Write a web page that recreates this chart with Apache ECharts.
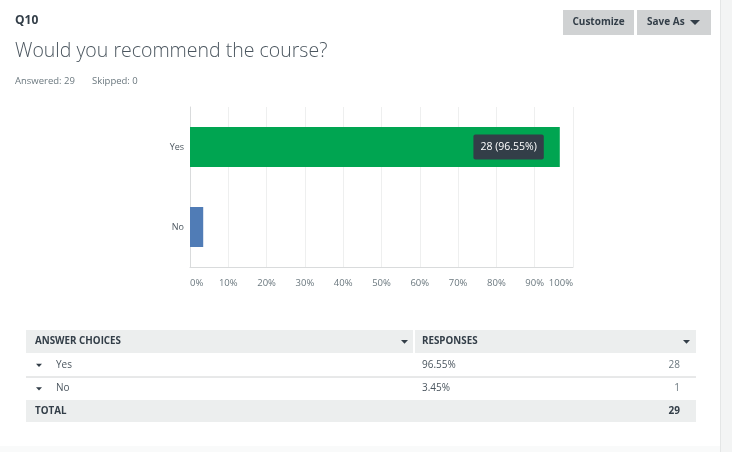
<!DOCTYPE html>
<html>
<head>
<meta charset="utf-8">
<script src="https://cdn.jsdelivr.net/npm/echarts@6/dist/echarts.min.js"></script>
<style>
html,body{margin:0;padding:0;background:#fff;}
#c{width:732px;height:452px;}
</style>
</head>
<body>
<div id="c"></div>
<script>
// ---- data ----
const categories = ['Yes', 'No'];
const counts = [28, 1];
const percents = [96.55, 3.45];
const total = 29;
const skipped = 0;
const barColors = ['#00a551', '#507cb6'];
const tickLabels = ['0%','10%','20%','30%','40%','50%','60%','70%','80%','90%','100%'];
const questionId = 'Q10';
const questionText = 'Would you recommend the course?';

const FONT = '"Open Sans", "Noto Sans", sans-serif';
const DARK = '#333e48';
const GRAY = '#6b787f';

const chart = echarts.init(document.getElementById('c'), null, {renderer: 'canvas'});

const graphics = [];
// right background strip
graphics.push({type:'rect', shape:{x:720,y:0,width:12,height:452}, style:{fill:'#f3f4f4'}, silent:true});
graphics.push({type:'line', shape:{x1:720.5,y1:0,x2:720.5,y2:452}, style:{stroke:'#e4e6e6',lineWidth:1}, silent:true});
graphics.push({type:'rect', shape:{x:0,y:446,width:720,height:6}, style:{fill:'#f9fafa'}, silent:true});
// header
graphics.push({type:'text', x:15, y:21, style:{text:questionId, font:'bold 12px '+FONT, fill:DARK, verticalAlign:'middle'}});
graphics.push({type:'text', x:15, y:51, style:{text:questionText, font:'300 19.5px '+FONT, fill:'#4b565f', verticalAlign:'middle'}});
graphics.push({type:'text', x:15, y:81, style:{text:'Answered: ' + total, font:'9.5px '+FONT, fill:GRAY, verticalAlign:'middle'}});
graphics.push({type:'text', x:92, y:81, style:{text:'Skipped: ' + skipped, font:'9.5px '+FONT, fill:GRAY, verticalAlign:'middle'}});
// buttons
graphics.push({type:'rect', shape:{x:563,y:10,width:71,height:25}, style:{fill:'#d0d2d3'}});
graphics.push({type:'text', x:598.5, y:22.5, style:{text:'Customize', font:'bold 10px '+FONT, fill:DARK, align:'center', verticalAlign:'middle'}});
graphics.push({type:'rect', shape:{x:637,y:10,width:74,height:25}, style:{fill:'#d0d2d3'}});
graphics.push({type:'text', x:647, y:22.5, style:{text:'Save As', font:'bold 10px '+FONT, fill:DARK, verticalAlign:'middle'}});
graphics.push({type:'polygon', shape:{points:[[690,20],[700,20],[695,25]]}, style:{fill:DARK}});

// table
function tri(x, y, w, color) {
  return {type:'polygon', shape:{points:[[x,y],[x+w,y],[x+w/2,y+w*0.55]]}, style:{fill:color}};
}
graphics.push({type:'rect', shape:{x:26,y:330,width:670,height:23}, style:{fill:'#eceeee'}});
graphics.push({type:'rect', shape:{x:413,y:330,width:2,height:23}, style:{fill:'#ffffff'}});
graphics.push({type:'text', x:35, y:341.5, style:{text:'ANSWER CHOICES', font:'bold 9.8px '+FONT, fill:DARK, verticalAlign:'middle'}});
graphics.push(tri(401, 340, 7, DARK));
graphics.push({type:'text', x:422, y:341.5, style:{text:'RESPONSES', font:'bold 9.8px '+FONT, fill:DARK, verticalAlign:'middle'}});
graphics.push(tri(683, 340, 7, DARK));
const rowTop = 353, rowH = 23.5;
categories.forEach((cat, i) => {
  const yMid = rowTop + rowH * i + rowH / 2;
  graphics.push(tri(36, yMid - 1, 6, DARK));
  graphics.push({type:'text', x:56, y:yMid, style:{text:cat, font:'10px '+FONT, fill:'#4b565f', verticalAlign:'middle'}});
  graphics.push({type:'text', x:422, y:yMid, style:{text:percents[i].toFixed(2)+'%', font:'10px '+FONT, fill:'#4b565f', verticalAlign:'middle'}});
  graphics.push({type:'text', x:680, y:yMid, style:{text:String(counts[i]), font:'10px '+FONT, fill:GRAY, align:'right', verticalAlign:'middle'}});
  if (i < categories.length - 1) {
    graphics.push({type:'line', shape:{x1:26,y1:rowTop+rowH*(i+1)+0.5,x2:696,y2:rowTop+rowH*(i+1)+0.5}, style:{stroke:'#d0d2d3',lineWidth:1}});
  }
});
graphics.push({type:'rect', shape:{x:26,y:400,width:670,height:22}, style:{fill:'#eceeee'}});
graphics.push({type:'text', x:35, y:411, style:{text:'TOTAL', font:'bold 9.8px '+FONT, fill:DARK, verticalAlign:'middle'}});
graphics.push({type:'text', x:680, y:411, style:{text:String(total), font:'bold 10px '+FONT, fill:DARK, align:'right', verticalAlign:'middle'}});

chart.setOption({
  animation: false,
  backgroundColor: '#ffffff',
  grid: {left:190, top:107, width:383, height:160, containLabel:false},
  xAxis: {
    type: 'value', min: 0, max: 100, interval: 10,
    axisLine: {show:true, lineStyle:{color:'#d9dbdc'}},
    axisTick: {show:false},
    splitLine: {show:true, lineStyle:{color:'#eeefef'}},
    axisLabel: {
      color: GRAY, fontSize: 9.5, fontFamily: FONT, margin: 11,
      formatter: (v) => tickLabels[Math.round(v/10)],
      alignMinLabel: 'left', alignMaxLabel: 'right'
    }
  },
  yAxis: {
    type: 'category', data: categories, inverse: true,
    axisLine: {show:true, lineStyle:{color:'#d9dbdc'}},
    axisTick: {show:false},
    axisLabel: {color:'#4b565f', fontSize:9, fontFamily:FONT, margin:6}
  },
  series: [{
    type: 'bar',
    barWidth: 40,
    data: percents.map((p, i) => ({
      value: p,
      itemStyle: {color: barColors[i]},
      label: i === 0 ? {
        show: true, position: 'insideRight', distance: 16,
        formatter: counts[i] + ' (' + percents[i].toFixed(2) + '%)',
        backgroundColor: '#333e48', color: '#ffffff', padding: [7, 7],
        borderRadius: 2, fontSize: 10.5, fontFamily: FONT
      } : {show:false}
    }))
  }],
  graphic: graphics
});
</script>
</body>
</html>
